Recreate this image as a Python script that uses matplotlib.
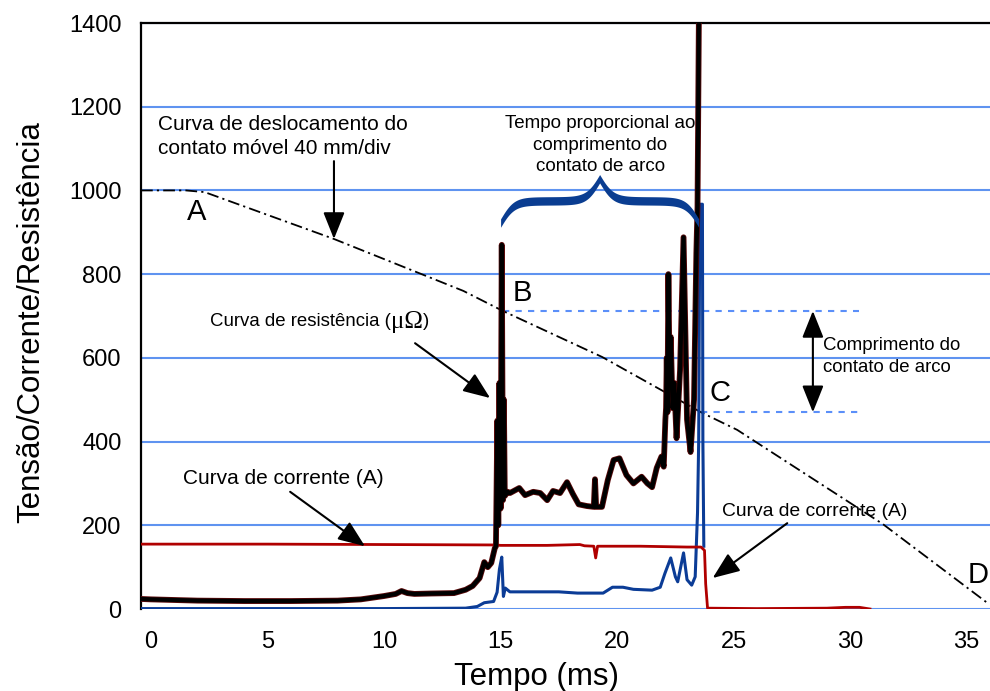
import numpy as np
import matplotlib.pyplot as plt
import matplotlib.patheffects as pe

plt.rcParams['font.family'] = ['Liberation Sans', 'DejaVu Sans']

# ---- valores lidos do oscilograma (tempo em ms) ----
# curva de resistencia (micro-ohm)
t_res = [-0.43, 0, 2, 4, 6, 8, 9, 10, 10.5, 10.75, 11.0, 11.3, 12, 13, 13.5, 13.8,
         14.1, 14.3, 14.45, 14.6, 14.75, 14.8, 14.86, 14.9, 14.95, 15.0, 15.05, 15.1,
         15.14, 15.18, 15.3, 15.4, 15.8, 16.05, 16.4, 16.7, 17.0, 17.25, 17.55, 17.85,
         18.1, 18.35, 18.7, 19.0, 19.05, 19.1, 19.35, 19.6, 19.85, 20.1, 20.4, 20.7,
         21.05, 21.3, 21.5, 21.7, 21.9, 22.0, 22.07, 22.1, 22.13, 22.16, 22.2, 22.25,
         22.3, 22.38, 22.45, 22.55, 22.7, 22.85, 23.0, 23.15, 23.3, 23.4, 23.45, 23.52]
v_res = [24, 23, 20, 19, 19, 20, 23, 31, 36, 43, 38, 36, 37, 38, 46, 55,
         74, 112, 100, 110, 145, 150, 450, 200, 540, 240, 870, 260,
         500, 270, 280, 277, 289, 272, 280, 277, 260, 282, 277, 303,
         275, 250, 246, 244, 310, 244, 244, 308, 356, 360, 320, 300,
         316, 300, 291, 337, 364, 340, 452, 480, 600, 470, 800, 560,
         650, 480, 540, 408, 570, 888, 452, 375, 500, 850, 960, 1500]

# curva de corrente (A)
t_cor = [-0.43, 5, 10, 14.8, 15.0, 17.0, 18.4, 18.6, 19.0, 19.08, 19.16, 21.0, 23.0,
         23.6, 23.75, 23.8, 23.88, 26.0, 29.0, 29.8, 30.4, 30.85]
v_cor = [155, 155, 154, 153, 152, 152, 154, 151, 150, 122, 150, 150, 148,
         148, 140, 60, 2, 1, 2, 4, 4, 0]

# curva de tensao
t_ten = [-0.43, 5, 10, 13.5, 14.0, 14.3, 14.7, 14.85, 14.95, 15.05, 15.12, 15.2, 15.4,
         16.0, 17.5, 18.3, 19.4, 19.8, 20.25, 20.7, 21.5, 21.85, 22.05, 22.3, 22.5,
         22.6, 22.85, 23.0, 23.2, 23.35, 23.45, 23.5, 23.55, 23.66, 23.68, 23.72]
v_ten = [1, 1, 1, 2, 6, 15, 18, 40, 95, 124, 30, 50, 41,
         41, 41, 38, 38, 52, 52, 47, 45, 52, 85, 122, 77,
         65, 134, 70, 57, 77, 230, 400, 967, 967, 400, 150]

# curva de deslocamento do contato movel (40 mm/div)
t_desl = [-0.43, 1.5, 2.3, 7.85, 13.4, 15.1, 19.36, 23.6, 25.15, 31.4, 35.9]
v_desl = [1000, 1000, 996, 884, 760, 712, 602, 470, 428, 203, 14]

# pontos B e C (inicio / fim do arco)
t_bc = [15.1, 23.6]
v_bc = [712, 470]
t_guia_fim = 30.4

# chave "tempo proporcional"
t_chave = [15.0, 23.5]

fig = plt.figure(figsize=(9.9, 6.91), dpi=100)
ax = fig.add_axes([141 / 990, 1 - 609 / 691, 849 / 990, 586 / 691])

ax.set_xlim(-0.43, 36.0)
ax.set_ylim(0, 1400)
ax.set_xticks(range(0, 40, 5))
ax.set_yticks(range(0, 1600, 200))
for yv in range(0, 1600, 200):
    ax.axhline(yv, color='#5f93f0', lw=1.5, zorder=0)

ax.spines['right'].set_visible(False)
ax.spines['bottom'].set_visible(False)
ax.spines['top'].set_linewidth(1.6)
ax.spines['left'].set_linewidth(1.6)
ax.tick_params(length=0, labelsize=17)
ax.tick_params(axis='y', pad=14)
ax.tick_params(axis='x', pad=16)

ax.set_xlabel('Tempo (ms)', fontsize=22.5)
ax.set_ylabel('Tensão/Corrente/Resistência', fontsize=22.5)
ax.xaxis.set_label_coords(0.466, -0.09)
ax.yaxis.set_label_coords(-0.112, 0.49)

# curvas
ax.plot(t_desl, v_desl, color='black', lw=1.3, ls=(0, (6.5, 2.3, 1.2, 2.3)), zorder=3)
ax.plot(t_ten, v_ten, color='#0b3c96', lw=2.2, zorder=4, solid_joinstyle='round')
ax.plot(t_cor, v_cor, color='#b00000', lw=2.0, zorder=4)
ax.plot(t_res, v_res, color='black', lw=3.0, zorder=5, solid_joinstyle='round',
        path_effects=[pe.Stroke(linewidth=4.2, foreground='#5a0a0a'), pe.Normal()])

# linhas guia B e C
for tb, vb in zip(t_bc, v_bc):
    ax.plot([tb, t_guia_fim], [vb, vb], color='#5b8ff9', lw=1.5, ls=(0, (3, 3)), zorder=2)

# chave
xs = np.linspace(t_chave[0], t_chave[1], 401)
xh = xs[:201]
beta = 3.5
yh = 1 / (1 + np.exp(-beta * (xh - xh[0]))) + 1 / (1 + np.exp(-beta * (xh - xh[-1])))
yb = np.concatenate((yh, yh[-2::-1]))
yb = 869 + 106 * yb
ax.fill_between(xs, yb - 10, yb + 10, color='#0a3d91', lw=0, zorder=6)

# setas
seta = dict(arrowstyle='-|>,head_length=0.55,head_width=0.22', color='black', lw=1.5,
            mutation_scale=30, shrinkA=0, shrinkB=0)
ax.annotate('', xy=(7.85, 884), xytext=(7.85, 1070), arrowprops=seta, zorder=7)
ax.annotate('', xy=(14.55, 504), xytext=(11.33, 635), arrowprops=seta, zorder=7)
ax.annotate('', xy=(9.18, 150), xytext=(5.97, 280), arrowprops=seta, zorder=7)
ax.annotate('', xy=(24.1, 74), xytext=(27.3, 205), arrowprops=seta, zorder=7)
dupla = dict(seta, arrowstyle='<|-|>,head_length=0.55,head_width=0.22')
ax.annotate('', xy=(28.4, v_bc[0]), xytext=(28.4, v_bc[1]), arrowprops=dupla, zorder=7)

# textos
ax.text(0.3, 1129, 'Curva de deslocamento do\ncontato móvel 40 mm/div', fontsize=15,
        va='center', ha='left', linespacing=1.3)
ax.text(19.27, 1108, 'Tempo proporcional ao\ncomprimento do\ncontato de arco', fontsize=13.5,
        va='center', ha='center', linespacing=1.35)
ax.text(28.84, 604, 'Comprimento do\ncontato de arco', fontsize=13.4,
        va='center', ha='left', linespacing=1.38)
t1 = ax.text(2.53, 686, 'Curva de resistência (', fontsize=13.4, va='center', ha='left')
t2 = ax.annotate('μΩ', xy=(1, 0.5), xycoords=t1, fontsize=18, va='center', ha='left',
                 family=['Liberation Serif', 'DejaVu Serif'])
ax.annotate(')', xy=(1, 0.5), xycoords=t2, fontsize=13.4, va='center', ha='left')
ax.text(1.37, 311, 'Curva de corrente (A)', fontsize=15, va='center', ha='left')
ax.text(24.5, 234, 'Curva de corrente (A)', fontsize=13.9, va='center', ha='left')

for lbl, tx, vy in [('A', 1.97, 948), ('B', 15.92, 755), ('C', 24.42, 516), ('D', 35.5, 81)]:
    ax.text(tx, vy, lbl, fontsize=21, va='center', ha='center', zorder=8)

fig.savefig('out.png', dpi=100)
